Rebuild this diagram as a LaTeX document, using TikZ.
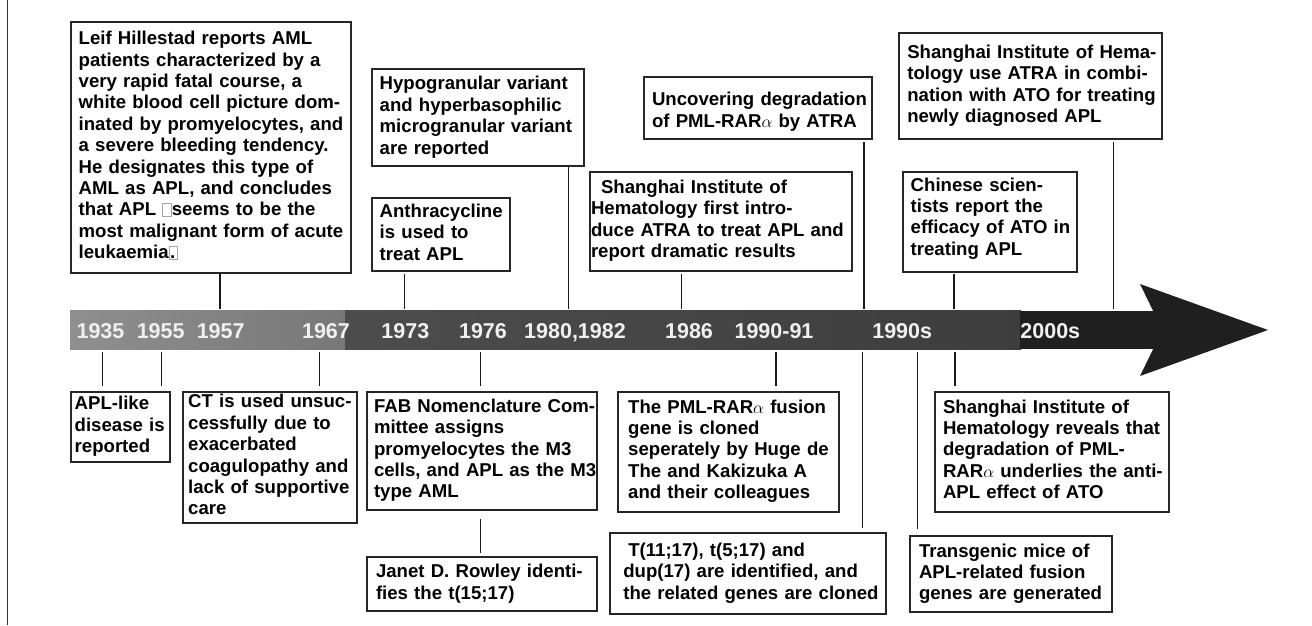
\documentclass[tikz,border=0pt]{standalone}
\usepackage{fontspec}
\setmainfont{Liberation Sans}
\usepackage{tikz}
\newcommand\evfont{\fontsize{18.6}{21.4}\selectfont\bfseries}
\newcommand\yrfont{\fontsize{21.5}{24}\selectfont\bfseries}
\newcommand\evlines[1]{\begin{tabular}[t]{@{}l@{}}#1\end{tabular}}
\newcommand\nochar{{\color{black!35}\fboxsep=0pt\fboxrule=0.7pt\fbox{\rule{0pt}{12pt}\hspace{8pt}}}}
\tikzset{
  event/.style={draw=black!85,line width=1.8pt,anchor=north west,align=left,inner xsep=8pt,inner ysep=0pt,outer sep=0pt,font=\evfont},
  year/.style={text=black!6,font=\yrfont,anchor=base,inner sep=0pt},
  tick/.style={line width=1.5pt,black!90},
}

\begin{document}
\begin{tikzpicture}[x=1pt,y=-1pt]
%\draw[help lines,step=50](0,0)grid(1312,625);
\useasboundingbox (0,0)rectangle(1312,625);
\draw[line width=1.2pt,black!80](7.3,0)--(7.3,625);
% the time bar
\fill[left color=black!44,right color=black!53](70,310.7)rectangle(346,349.3);
\fill[left color=black!70,right color=black!76](345,310.7)rectangle(1021,349.3);
\fill[black!88](1020,310.7)rectangle(1154,349.3);
\fill[black!88](1153,310.7)--(1140,284)--(1268,330)--(1140,376)--(1153,349.3)--cycle;
\draw (70.7,22.3)coordinate(p1)
      (371.7,69.3)coordinate(p2)
      (371.7,197.7)coordinate(p3)
      (644,76.7)coordinate(p4)
      (590,171.7)coordinate(p5)
      (902.7,172.3)coordinate(p6)
      (899.3,33.3)coordinate(p7)
      (70.7,391.7)coordinate(q1)
      (182.7,391.7)coordinate(q2)
      (367,391.7)coordinate(q3)
      (367,557.3)coordinate(q4)
      (617.7,391.7)coordinate(q5)
      (610,533.3)coordinate(q6)
      (935,391.7)coordinate(q7)
      (910,536)coordinate(q8);
\draw (220,308.5)coordinate(t57)
      (404.3,308.5)coordinate(t73)
      (568.5,308.5)coordinate(t80)
      (681.7,308.5)coordinate(t86)
      (864,308.5)coordinate(t90)
      (954.2,308.5)coordinate(t95)
      (1113.5,308.5)coordinate(t00)
      (102.3,351.5)coordinate(b35)
      (161.7,351.5)coordinate(b55)
      (319.3,351.5)coordinate(b67)
      (480.7,351.5)coordinate(b76)
      (776,351.5)coordinate(b91)
      (862.7,351.5)coordinate(b92)
      (917.3,351.5)coordinate(b96)
      (955,351.5)coordinate(b99);
% years
\draw (100.5,338.3)node[year](y35){1935};
\draw (160.7,338.3)node[year](y55){1955};
\draw (220.7,338.3)node[year](y57){1957};
\draw (326,338.3)node[year](y67){1967};
\draw (405.3,338.3)node[year](y73){1973};
\draw (483,338.3)node[year](y76){1976};
\draw (575,338.3)node[year](y80){1980,1982};
\draw (689,338.3)node[year](y86){1986};
\draw (774,338.3)node[year](y90){1990-91};
\draw (902.2,338.3)node[year](y9s){1990s};
\draw (1050.3,338.3)node[year](y0s){2000s};
% events above the bar
\draw (p1)node[event,text width=264,minimum height=250.4](leif){\evlines{Leif Hillestad reports AML\\patients characterized by a\\very rapid fatal course, a\\white blood cell picture dom-\\inated by promyelocytes, and\\a severe bleeding tendency.\\He designates this type of\\AML as APL, and concludes\\that APL \nochar seems to be the\\most malignant form of acute\\leukaemia\nochar\kern-8pt.\kern3pt}};
\draw (p2)node[event,text width=196.3,minimum height=96.7](hypo){\evlines{Hypogranular variant\\and hyperbasophilic\\microgranular variant\\are reported}};
\draw (p3)node[event,text width=122.3,minimum height=73.3](anthra){\evlines{Anthracycline\\is used to\\treat APL}};
\draw (p4)node[event,text width=212.3,minimum height=62.6,text height=23.8pt](uncov){\evlines{Uncovering degradation\\of PML-RAR$\alpha$ by ATRA}};
\draw (p5)node[event,inner xsep=1pt,text width=260,minimum height=99.3](atra){\evlines{\hspace*{10pt}Shanghai Institute of\\Hematology first intro-\\duce ATRA to treat APL and\\report dramatic results}};
\draw (p6)node[event,text width=158,minimum height=99.4,text depth=76.8pt](ato){\evlines{Chinese scien-\\tists report the\\efficacy of ATO in\\treating APL}};
\draw (p7)node[event,text width=247,minimum height=106](combi){\evlines{Shanghai Institute of Hema-\\tology use ATRA in combi-\\nation with ATO for treating\\newly diagnosed APL}};
% events below the bar
\draw (q1)node[event,inner xsep=4pt,text width=91.3,minimum height=70.6](aplike){\evlines{APL-like\\disease is\\reported}};
\draw (q2)node[event,inner xsep=5.5pt,text width=163,minimum height=131](ct){\evlines{CT is used unsuc-\\cessfully due to\\exacerbated\\coagulopathy and\\lack of supportive\\care}};
\draw (q3)node[event,inner xsep=7pt,text width=215.7,minimum height=118.3](fab){\evlines{FAB Nomenclature Com-\\mittee assigns\\promyelocytes the M3\\cells, and APL as the M3\\type AML}};
\draw (q4)node[event,inner xsep=9pt,text width=211.7,minimum height=53.7](janet){\evlines{Janet D. Rowley identi-\\fies the t(15;17)}};
\draw (q5)node[event,inner xsep=10.5pt,text width=200.6,minimum height=120](pml){\evlines{The PML-RAR$\alpha$ fusion\\gene is cloned\\seperately by Huge de\\The and Kakizuka A\\and their colleagues}};
\draw (q6)node[event,inner xsep=13.3pt,text width=249.4,minimum height=80.7](tvar){\evlines{\hspace*{5pt}T(11;17), t(5;17) and\\dup(17) are identified, and\\the related genes are cloned}};
\draw (q7)node[event,text width=217.7,minimum height=120](reveal){\evlines{Shanghai Institute of\\Hematology reveals that\\degradation of PML-\\RAR$\alpha$ underlies the anti-\\APL effect of ATO}};
\draw (q8)node[event,inner xsep=9pt,text width=184.3,minimum height=76.3](mice){\evlines{Transgenic mice of\\APL-related fusion\\genes are generated}};
% ticks
\draw[tick](leif.south-|t57)--(t57);
\draw[tick,shorten <=3pt](anthra.south-|t73)--(t73);
\draw[tick](hypo.south-|t80)--(t80);
\draw[tick,shorten <=3pt](atra.south-|t86)--(t86);
\draw[tick,shorten <=3pt](uncov.south-|t90)--(t90);
\draw[tick,shorten <=2pt](ato.south-|t95)--(t95);
\draw[tick,shorten <=3pt](combi.south-|t00)--(t00);
\draw[tick,shorten >=6pt](b35)--(aplike.north-|b35);
\draw[tick,shorten >=6pt](b55)--(aplike.north-|b55);
\draw[tick,shorten >=6pt](b67)--(ct.north-|b67);
\draw[tick,shorten >=6pt](b76)--(fab.north-|b76);
\draw[tick,shorten <=9pt,shorten >=4pt](fab.south-|b76)--(janet.north-|b76);
\draw[tick,shorten >=6pt](b91)--(pml.north-|b91);
\draw[tick,shorten >=5pt](b92)--(tvar.north-|b92);
\draw[tick,shorten >=6.7pt](b96)--(mice.north-|b96);
\draw[tick,shorten >=6pt](b99)--(reveal.north-|b99);
\end{tikzpicture}
\end{document}
